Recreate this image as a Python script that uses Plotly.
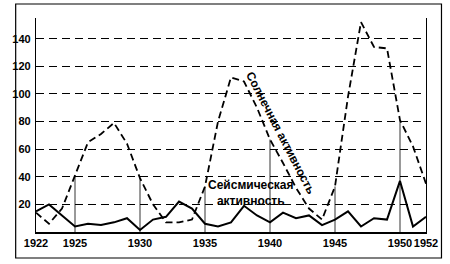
import plotly.graph_objects as go

years = list(range(1922, 1953))
solar = [14, 6, 17, 41, 65, 71, 79, 64, 39, 20, 7, 7, 9, 33, 80, 112, 109, 90, 67, 50, 32, 17, 9, 33, 98, 152, 134, 133, 81, 62, 35]
seismic = [15, 20, 12, 4, 6, 5, 7, 10, 1.5, 9, 11, 22, 17, 6, 4, 7, 19, 12, 7, 14, 10, 12, 5, 9, 15, 4, 10, 9, 37, 4, 11]
drop_years = [1925, 1930, 1935, 1940, 1945, 1950]
x_ticks = [1922, 1925, 1930, 1935, 1940, 1945, 1950, 1952]
y_ticks = [20, 40, 60, 80, 100, 120, 140]
seis_label = "Сейсмическая<br>активность"
solar_label = "Солнечная активность"

FONT = "Liberation Sans, Arial, sans-serif"

# drop lines from axis to solar curve
dx, dy = [], []
for yr in drop_years:
    v = solar[years.index(yr)]
    dx += [yr, yr, None]
    dy += [0, v, None]

fig = go.Figure()
fig.add_trace(go.Scatter(x=dx, y=dy, mode="lines", line=dict(color="black", width=0.8),
                         hoverinfo="skip", showlegend=False))
fig.add_trace(go.Scatter(x=years, y=solar, mode="lines",
                         line=dict(color="black", width=1.8, dash="7px,4px"), showlegend=False))
fig.add_trace(go.Scatter(x=years, y=seismic, mode="lines",
                         line=dict(color="black", width=2), showlegend=False))

fig.add_annotation(x=1938.5, y=28.5, text=seis_label, showarrow=False, borderpad=0,
                   font=dict(family=FONT, size=12, color="black", weight="bold"), align="center")
fig.add_annotation(x=1940.6, y=70.5, text=solar_label, showarrow=False, textangle=62.5,
                   xshift=3, yshift=2,
                   font=dict(family=FONT, size=12, color="black", weight="bold"))

# outer frame
fig.add_shape(type="rect", xref="paper", yref="paper",
              x0=(4 - 25) / 403, x1=(444 - 25) / 403, y0=(232 - 258) / 214, y1=(232 - 4) / 214,
              line=dict(color="black", width=1.2), fillcolor="rgba(0,0,0,0)")

fig.update_layout(
    width=450, height=264,
    margin=dict(l=25, r=22, t=18, b=32),
    paper_bgcolor="white", plot_bgcolor="white",
    font=dict(family=FONT, size=11, color="black"),
)
fig.update_xaxes(range=[1922, 1952], tickvals=x_ticks, ticktext=[str(t) for t in x_ticks],
                 tickangle=0, showgrid=False, zeroline=False, showline=True, linecolor="black",
                 linewidth=1.5, ticks="", tickfont=dict(family=FONT, size=11, weight="bold"))
fig.update_yaxes(range=[0, 155], tickvals=y_ticks, showgrid=True, gridcolor="black", gridwidth=1,
                 griddash="8px,5px", zeroline=False, showline=True, linecolor="black", linewidth=1.2,
                 mirror=True, ticks="", ticklabelstandoff=2,
                 tickfont=dict(family=FONT, size=11, weight="bold"))

fig.write_html("out.html")
